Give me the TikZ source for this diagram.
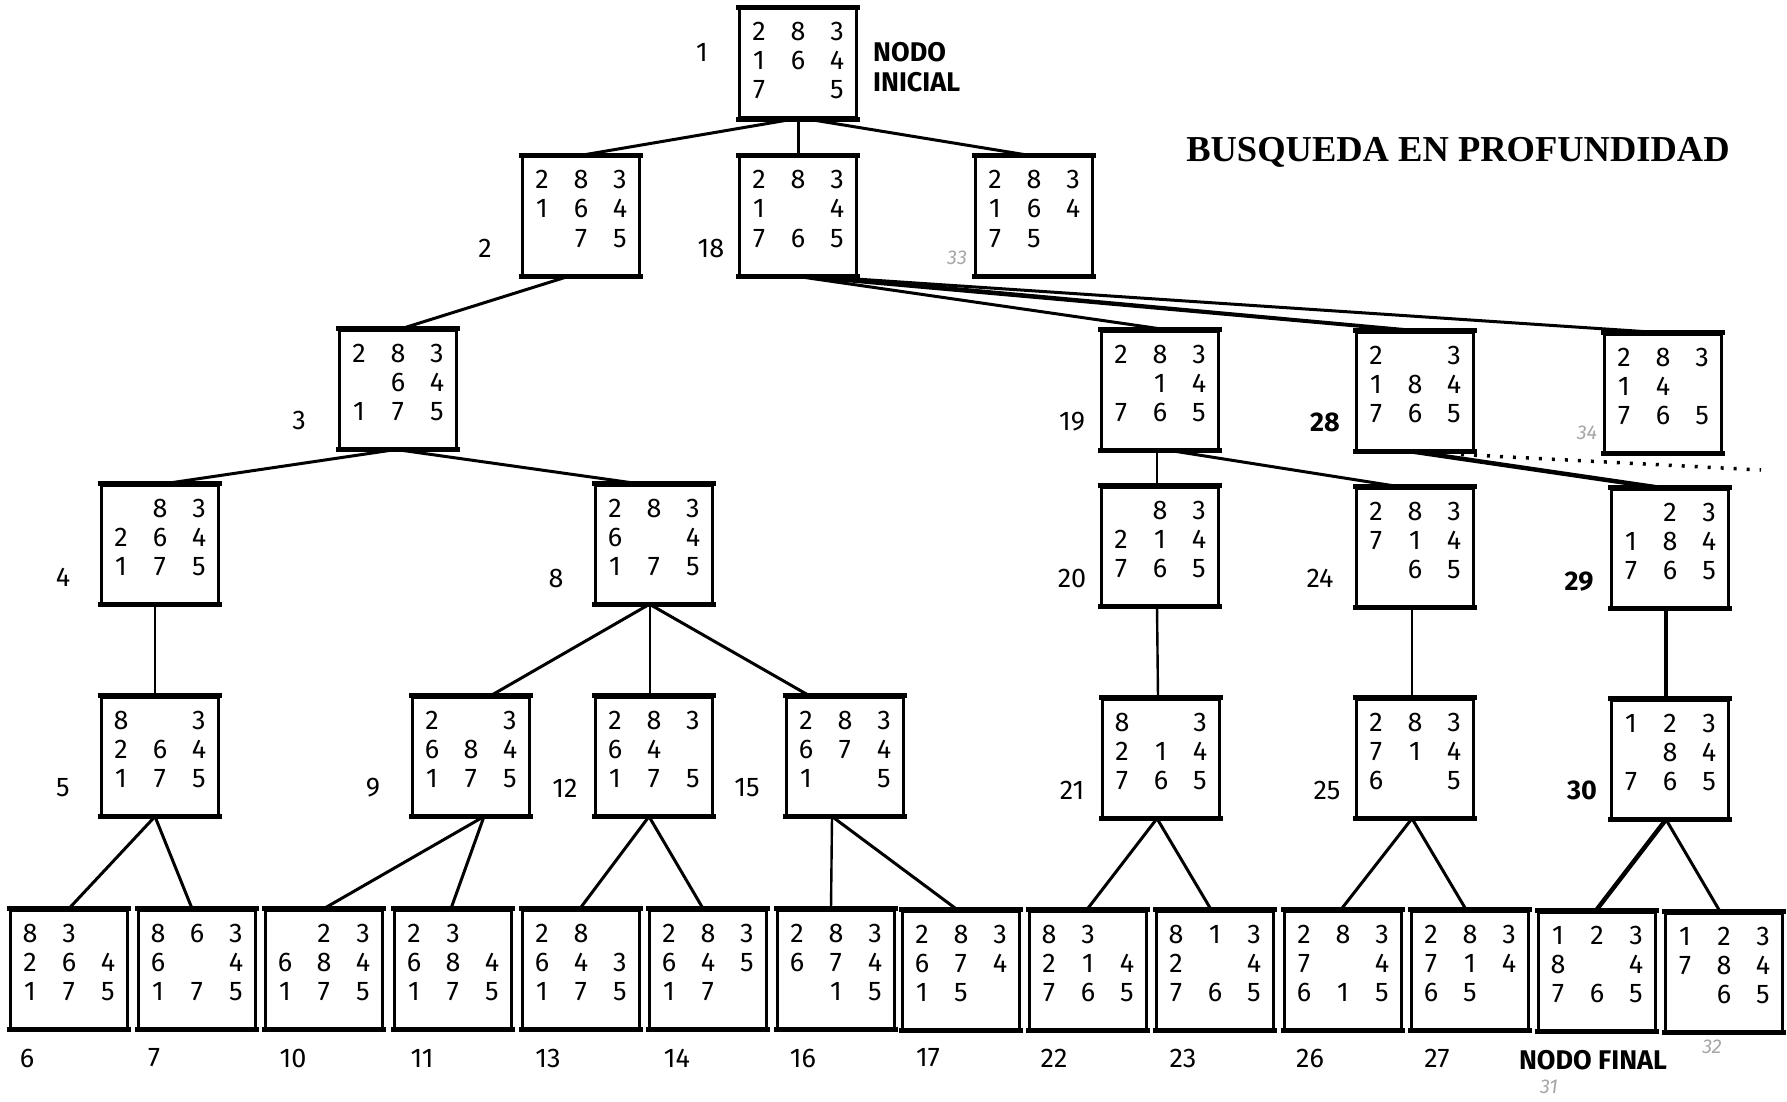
\documentclass[tikz,border=0pt]{standalone}
\usepackage{fontspec}
\setmainfont{Fira Sans}
\newfontfamily\titlefont{Liberation Serif}
\newcommand{\dgt}[1]{\makebox[39pt]{#1}}
\def\boxht{118pt}
\newcommand{\puz}[9]{\parbox[c][\boxht][t]{117pt}{\centering\fontsize{27}{29}\selectfont\rule{0pt}{32pt}\dgt{#1}\dgt{#2}\dgt{#3}\\\dgt{#4}\dgt{#5}\dgt{#6}\\\dgt{#7}\dgt{#8}\dgt{#9}\par}}
\tikzset{
  box/.style={draw, line width=3pt, inner sep=0pt},
  lbl/.style={inner sep=0pt, font=\fontsize{27}{29}\selectfont},
  blbl/.style={inner sep=0pt, font=\fontsize{27}{29}\selectfont\bfseries},
  faint/.style={inner sep=0pt, text=black!35, font=\fontsize{20}{22}\selectfont\itshape},
  conn/.style={line width=3pt},
  thinconn/.style={line width=2.4pt},
  thickconn/.style={line width=4.5pt},
}
\begin{document}
\begin{tikzpicture}[x=1pt,y=-1pt]
\useasboundingbox (0,0) rectangle (1787,1102);
% ---------- nodes ----------
\begin{scope}
\def\boxht{109pt}
\node[box] (n1) at (798,63.5) {\puz{2}{8}{3}{1}{6}{4}{7}{}{5}};
\end{scope}
\node[box] (n2)  at (581,216) {\puz{2}{8}{3}{1}{6}{4}{}{7}{5}};
\node[box] (n18) at (798,216) {\puz{2}{8}{3}{1}{}{4}{7}{6}{5}};
\node[box] (n33) at (1034,216) {\puz{2}{8}{3}{1}{6}{4}{7}{5}{}};
\node[box] (n3)  at (398,389) {\puz{2}{8}{3}{}{6}{4}{1}{7}{5}};
\node[box] (n19) at (1160,390) {\puz{2}{8}{3}{}{1}{4}{7}{6}{5}};
\node[box] (n28) at (1415,391) {\puz{2}{}{3}{1}{8}{4}{7}{6}{5}};
\node[box] (n34) at (1663,393) {\puz{2}{8}{3}{1}{4}{}{7}{6}{5}};
\node[box] (n4)  at (160,544) {\puz{}{8}{3}{2}{6}{4}{1}{7}{5}};
\node[box] (n8)  at (654,544) {\puz{2}{8}{3}{6}{}{4}{1}{7}{5}};
\node[box] (n20) at (1160,546) {\puz{}{8}{3}{2}{1}{4}{7}{6}{5}};
\node[box] (n24) at (1415,547) {\puz{2}{8}{3}{7}{1}{4}{}{6}{5}};
\node[box] (n29) at (1670,548) {\puz{}{2}{3}{1}{8}{4}{7}{6}{5}};
\node[box] (n5)  at (160,756) {\puz{8}{}{3}{2}{6}{4}{1}{7}{5}};
\node[box] (n9)  at (471,756) {\puz{2}{}{3}{6}{8}{4}{1}{7}{5}};
\node[box] (n12) at (654,756) {\puz{2}{8}{3}{6}{4}{}{1}{7}{5}};
\node[box] (n15) at (845,756) {\puz{2}{8}{3}{6}{7}{4}{1}{}{5}};
\node[box] (n21) at (1161,758) {\puz{8}{}{3}{2}{1}{4}{7}{6}{5}};
\node[box] (n25) at (1415,758) {\puz{2}{8}{3}{7}{1}{4}{6}{}{5}};
\node[box] (n30) at (1670,759) {\puz{1}{2}{3}{}{8}{4}{7}{6}{5}};
\node[box] (n6)  at (69,969)   {\puz{8}{3}{}{2}{6}{4}{1}{7}{5}};
\node[box] (n7)  at (197,969)  {\puz{8}{6}{3}{6}{}{4}{1}{7}{5}};
\node[box] (n10) at (324,969)  {\puz{}{2}{3}{6}{8}{4}{1}{7}{5}};
\node[box] (n11) at (453,969)  {\puz{2}{3}{}{6}{8}{4}{1}{7}{5}};
\node[box] (n13) at (581,969)  {\puz{2}{8}{}{6}{4}{3}{1}{7}{5}};
\node[box] (n14) at (708,969)  {\puz{2}{8}{3}{6}{4}{5}{1}{7}{}};
\node[box] (n16) at (836,969)  {\puz{2}{8}{3}{6}{7}{4}{}{1}{5}};
\node[box] (n17) at (961,970)  {\puz{2}{8}{3}{6}{7}{4}{1}{5}{}};
\node[box] (n22) at (1088,970) {\puz{8}{3}{}{2}{1}{4}{7}{6}{5}};
\node[box] (n23) at (1215,970) {\puz{8}{1}{3}{2}{}{4}{7}{6}{5}};
\node[box] (n26) at (1343,970) {\puz{2}{8}{3}{7}{}{4}{6}{1}{5}};
\node[box] (n27) at (1470,970) {\puz{2}{8}{3}{7}{1}{4}{6}{5}{}};
\node[box] (n31) at (1597,971) {\puz{1}{2}{3}{8}{}{4}{7}{6}{5}};
\node[box] (n32) at (1724,972) {\puz{1}{2}{3}{7}{8}{4}{}{6}{5}};
% thicker top and bottom edges of the boxes
\foreach \n in {n1,n2,n18,n33,n3,n19,n28,n34,n4,n8,n20,n24,n29,n5,n9,n12,n15,n21,n25,n30,n6,n7,n10,n11,n13,n14,n16,n17,n22,n23,n26,n27,n31,n32}{
  \draw[line width=4.5pt, line cap=rect] (\n.north west) -- (\n.north east);
  \draw[line width=4.5pt, line cap=rect] (\n.south west) -- (\n.south east);
}
% ---------- labels ----------
\node[lbl] (l1) at (702,52) {1};
\node[blbl, anchor=west, align=left, font=\fontsize{27}{30}\selectfont\bfseries] (ini) at (873,67) {NODO\\INICIAL};
\node[lbl] (l2) at (485,248) {2};
\node[lbl] (l18) at (711,248) {18};
\node[faint] (f33) at (957,258) {33};
\node[inner sep=0pt, font=\fontsize{36.5}{40}\selectfont\titlefont\bfseries] (title) at (1458,152) {BUSQUEDA EN PROFUNDIDAD};
\node[lbl] (l3) at (299,420) {3};
\node[lbl] (l19) at (1072,422) {19};
\node[blbl] (l28) at (1325,422) {28};
\node[faint] (f34) at (1587,433) {34};
\node[lbl] (l4) at (63,577) {4};
\node[lbl] (l8) at (556,578) {8};
\node[lbl] (l20) at (1072,578) {20};
\node[lbl] (l24) at (1320,578) {24};
\node[blbl] (l29) at (1579,582) {29};
\node[lbl] (l5) at (63,788) {5};
\node[lbl] (l9) at (373,788) {9};
\node[lbl] (l12) at (565,788) {12};
\node[lbl] (l15) at (747,788) {15};
\node[lbl] (l21) at (1072,790) {21};
\node[lbl] (l25) at (1327,790) {25};
\node[blbl] (l30) at (1582,790) {30};
\node[lbl] (l6) at (27,1058) {6};
\node[lbl] (l7) at (154,1058) {7};
\node[lbl] (l10) at (293,1058) {10};
\node[lbl] (l11) at (422,1058) {11};
\node[lbl] (l13) at (548,1058) {13};
\node[lbl] (l14) at (677,1058) {14};
\node[lbl] (l16) at (803,1058) {16};
\node[lbl] (l17) at (928,1058) {17};
\node[lbl] (l22) at (1054,1058) {22};
\node[lbl] (l23) at (1183,1058) {23};
\node[lbl] (l26) at (1310,1058) {26};
\node[lbl] (l27) at (1437,1058) {27};
\node[blbl] (fin) at (1593,1060) {NODO FINAL};
\node[faint] (f32) at (1712,1047) {32};
\node[faint] (f31) at (1549,1087) {31};
% ---------- connectors ----------
\draw[conn] ([xshift=-7pt]n1.south) -- ([xshift=-1pt]n2.north);
\draw[conn] (n1.south) -- (n18.north);
\draw[conn] ([xshift=12pt]n1.south) -- ([xshift=-4pt]n33.north);
\draw[conn] ([xshift=-13pt]n2.south) -- ([xshift=4pt]n3.north);
\draw[conn] ([xshift=-2pt]n3.south) -- ([xshift=6pt]n4.north);
\draw[conn] ([xshift=-2pt]n3.south) -- ([xshift=-17pt]n8.north);
\draw[thinconn] ([xshift=-5pt]n4.south) -- ([xshift=-5pt]n5.north);
\draw[conn] ([xshift=-5pt]n8.south) -- ([xshift=20pt]n9.north);
\draw[thinconn] ([xshift=-4pt]n8.south) -- ([xshift=-4pt]n12.north);
\draw[conn] ([xshift=-4pt]n8.south) -- ([xshift=-36pt]n15.north);
\draw[conn] ([xshift=-5pt]n5.south) -- (n6.north);
\draw[conn] ([xshift=-5pt]n5.south) -- ([xshift=-5pt]n7.north);
\draw[conn] ([xshift=13pt]n9.south) -- (n10.north);
\draw[conn] ([xshift=13pt]n9.south) -- ([xshift=-2pt]n11.north);
\draw[conn] ([xshift=-5pt]n12.south) -- ([xshift=-1pt]n13.north);
\draw[conn] ([xshift=-5pt]n12.south) -- ([xshift=-5pt]n14.north);
\draw[thinconn] ([xshift=-13pt]n15.south) -- ([xshift=-5pt]n16.north);
\draw[conn] ([xshift=-13pt]n15.south) -- ([xshift=-4pt]n17.north);
\draw[conn] (n18.south) -- ([xshift=5pt]n19.north);
\draw[conn] ([xshift=2pt]n18.south) -- ([xshift=-8pt]n28.north);
\draw[conn] ([xshift=25pt]n18.south) -- ([xshift=0pt]n28.north);
\draw[conn] ([xshift=20pt]n18.south) -- ([xshift=-5pt]n34.north);
\draw[thinconn] ([xshift=-3pt]n19.south) -- ([xshift=-3pt]n20.north);
\draw[conn] ([xshift=10pt]n19.south) -- ([xshift=-17pt]n24.north);
\draw[thickconn] ([xshift=-3pt]n28.south) -- ([xshift=-12pt]n29.north);
\coordinate (dotend) at (1761,470);
\draw[line width=3.5pt, dash pattern=on 3pt off 10pt] ([xshift=-14pt,yshift=-3pt]n28.south east) -- (dotend);
\draw[thinconn] ([xshift=-3pt]n20.south) -- ([xshift=-3pt]n21.north);
\draw[thinconn] ([xshift=-3pt]n24.south) -- ([xshift=-3pt]n25.north);
\draw[line width=3.5pt] ([xshift=-4pt]n29.south) -- ([xshift=-4pt]n30.north);
\draw[conn] ([xshift=-4pt]n21.south) -- ([xshift=-1pt]n22.north);
\draw[conn] ([xshift=-4pt]n21.south) -- ([xshift=-4pt]n23.north);
\draw[conn] ([xshift=-3pt]n25.south) -- ([xshift=-2pt]n26.north);
\draw[conn] ([xshift=-3pt]n25.south) -- ([xshift=-4pt]n27.north);
\draw[thickconn] ([xshift=-4pt]n30.south) -- ([xshift=-1pt]n31.north);
\draw[conn] ([xshift=-4pt]n30.south) -- ([xshift=-4pt]n32.north);
\end{tikzpicture}
\end{document}
